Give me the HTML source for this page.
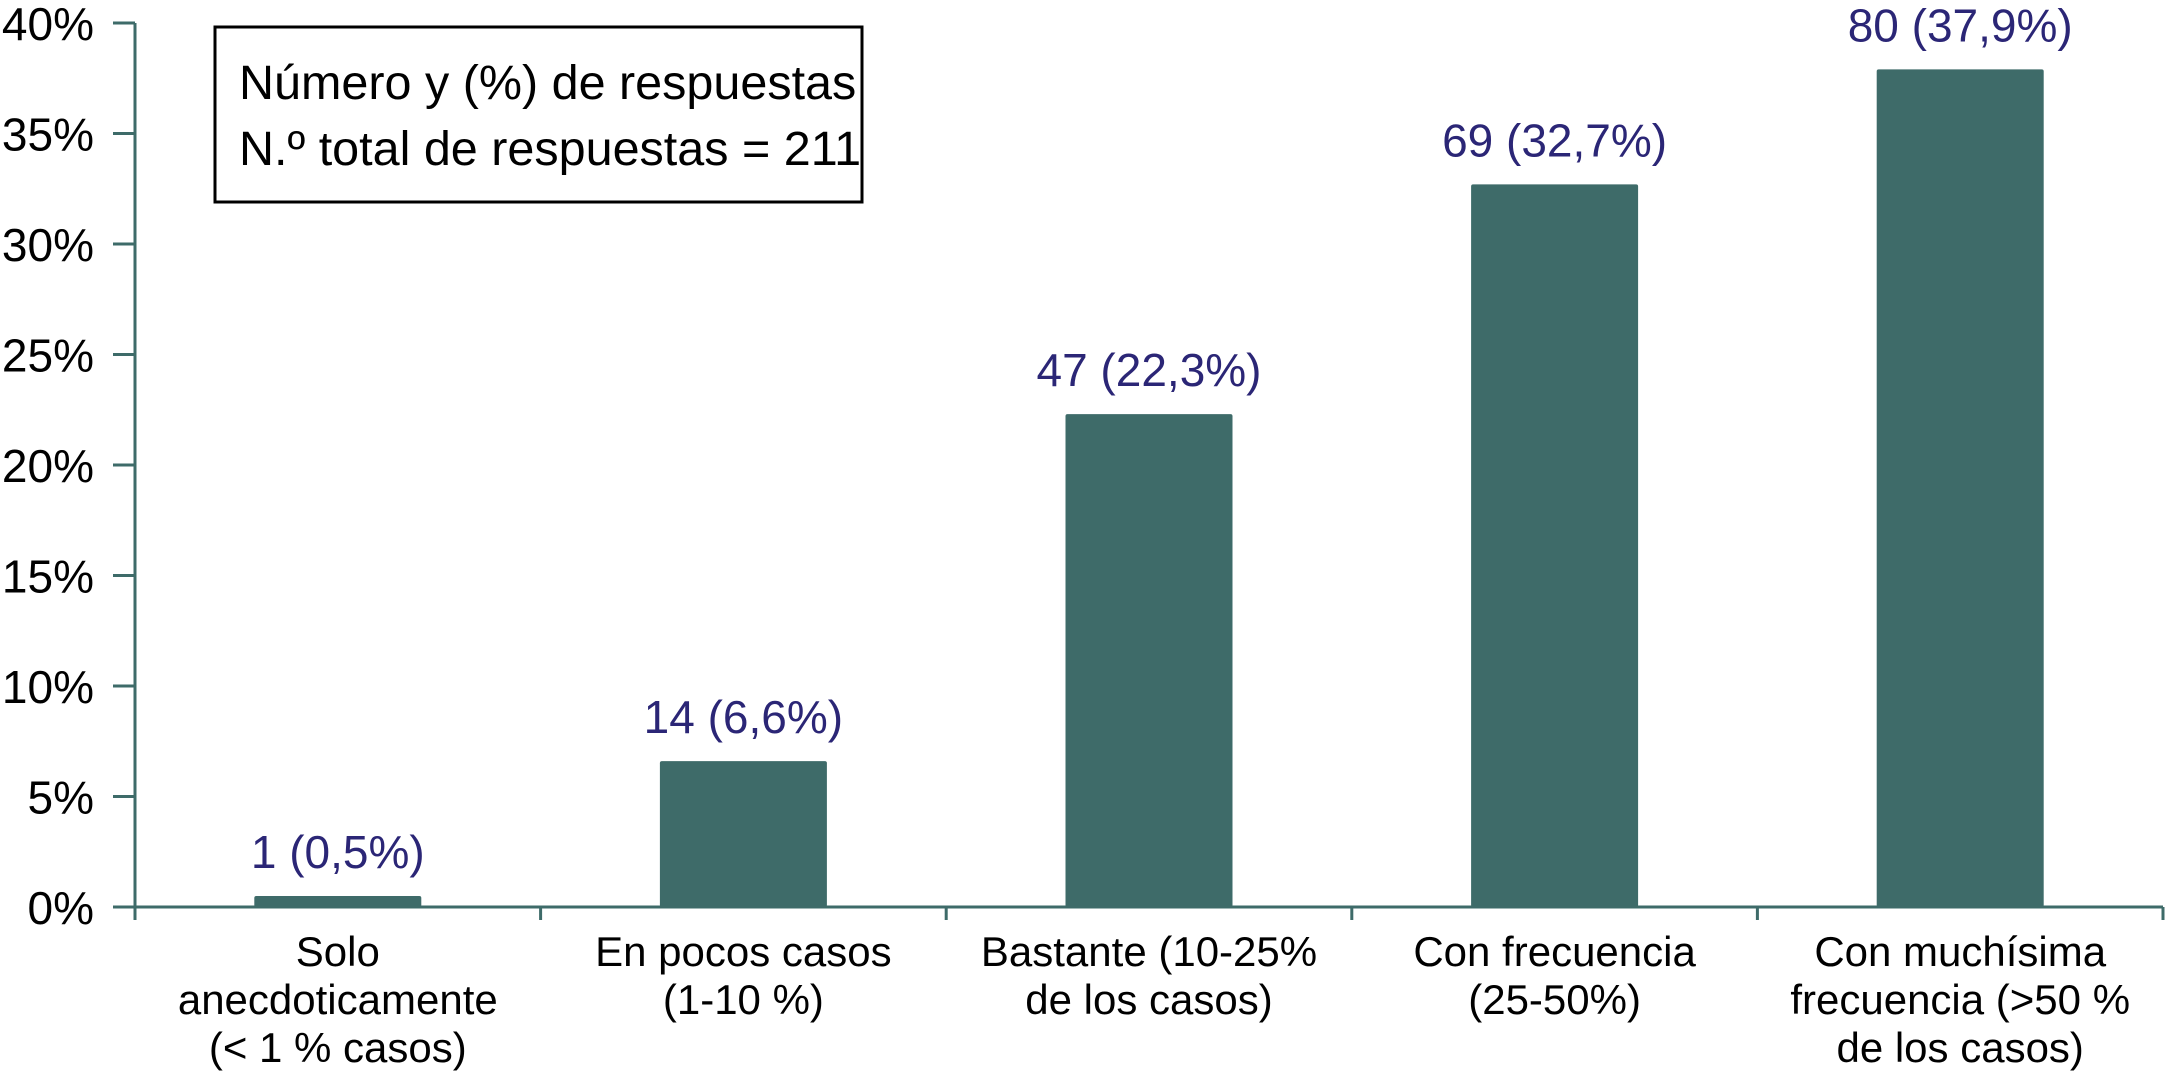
<!DOCTYPE html>
<html><head><meta charset="utf-8"><style>
html,body{margin:0;padding:0;background:#fff}
svg{display:block}
text{font-family:"Liberation Sans",Arial,sans-serif}
</style></head><body>
<svg id="chart" width="2166" height="1074" viewBox="0 0 2166 1074" xmlns="http://www.w3.org/2000/svg">
<g id="axes"></g>
<g id="bars"></g>
<g id="labels"></g>
<g id="cats"></g>
<g>
<rect x="215" y="27" width="647" height="175" fill="#fff" stroke="#000" stroke-width="3"/>
<text x="239" y="99" font-size="48.5" fill="#000">Número y (%) de respuestas</text>
<text x="239" y="165" font-size="48.5" fill="#000">N.º total de respuestas = 211</text>
</g>
</svg>
<script>
const categories = [
  ["Solo","anecdoticamente","(< 1 % casos)"],
  ["En pocos casos","(1-10 %)"],
  ["Bastante (10-25%","de los casos)"],
  ["Con frecuencia","(25-50%)"],
  ["Con muchísima","frecuencia (>50 %","de los casos)"]
];
const counts = [1, 14, 47, 69, 80];
const percents = [0.5, 6.6, 22.3, 32.7, 37.9];
const valueLabels = ["1 (0,5%)","14 (6,6%)","47 (22,3%)","69 (32,7%)","80 (37,9%)"];
const yTicks = [0,5,10,15,20,25,30,35,40];
const yTickLabels = ["0%","5%","10%","15%","20%","25%","30%","35%","40%"];

const NS = "http://www.w3.org/2000/svg";
const X0 = 135, X1 = 2163, Y0 = 907, YTOP = 23, YMAX = 40;
const axisColor = "#3e6b69";
const catW = (X1 - X0) / categories.length;
const barW = 167;
function yScale(v){ return Y0 - (v / YMAX) * (Y0 - YTOP); }
function xCenter(i){ return X0 + catW * (i + 0.5); }
function mk(tag, attrs, parent){
  const e = document.createElementNS(NS, tag);
  for (const k in attrs) e.setAttribute(k, attrs[k]);
  parent.appendChild(e);
  return e;
}
const axes = document.getElementById('axes');
const barsG = document.getElementById('bars');
const labG = document.getElementById('labels');
const catG = document.getElementById('cats');

let yl = mk('line', {x1:X0, y1:YTOP, x2:X0, y2:Y0+13, stroke:axisColor, 'stroke-width':3}, axes);


let xl = mk('line', {x1:X0-22, y1:Y0, x2:X1, y2:Y0, stroke:axisColor, 'stroke-width':3}, axes);



yTicks.forEach((t, i) => {
  const y = yScale(t);
  const tk = mk('line', {x1:X0-22, y1:y, x2:X0, y2:y, stroke:axisColor, 'stroke-width':3}, axes);
  
  
  const tx = mk('text', {x:94, y:y+17, 'font-size':46, 'text-anchor':'end', fill:'#000'}, axes);
  tx.textContent = yTickLabels[i];
  
  
});
for (let i = 0; i <= categories.length; i++) {
  const x = X0 + catW * i;
  const tk = mk('line', {x1:x, y1:Y0, x2:x, y2:Y0+13, stroke:axisColor, 'stroke-width':3}, axes);
  
  
}
percents.forEach((p, i) => {
  const cx = xCenter(i);
  const top = yScale(p);
  const b = mk('rect', {x:cx-barW/2, y:top, width:barW, height:Y0-top, fill:'#3e6b69', rx:2}, barsG);
  
  
  const t = mk('text', {x:cx, y:top-28, 'font-size':46, 'text-anchor':'middle', fill:'#2b2676'}, labG);
  t.textContent = valueLabels[i];
  
  
  categories[i].forEach((line, j) => {
    const c = mk('text', {x:cx, y:966 + j*48, 'font-size':42, 'text-anchor':'middle', fill:'#000'}, catG);
    c.textContent = line;
    
    
  });
});
</script>
</body></html>
